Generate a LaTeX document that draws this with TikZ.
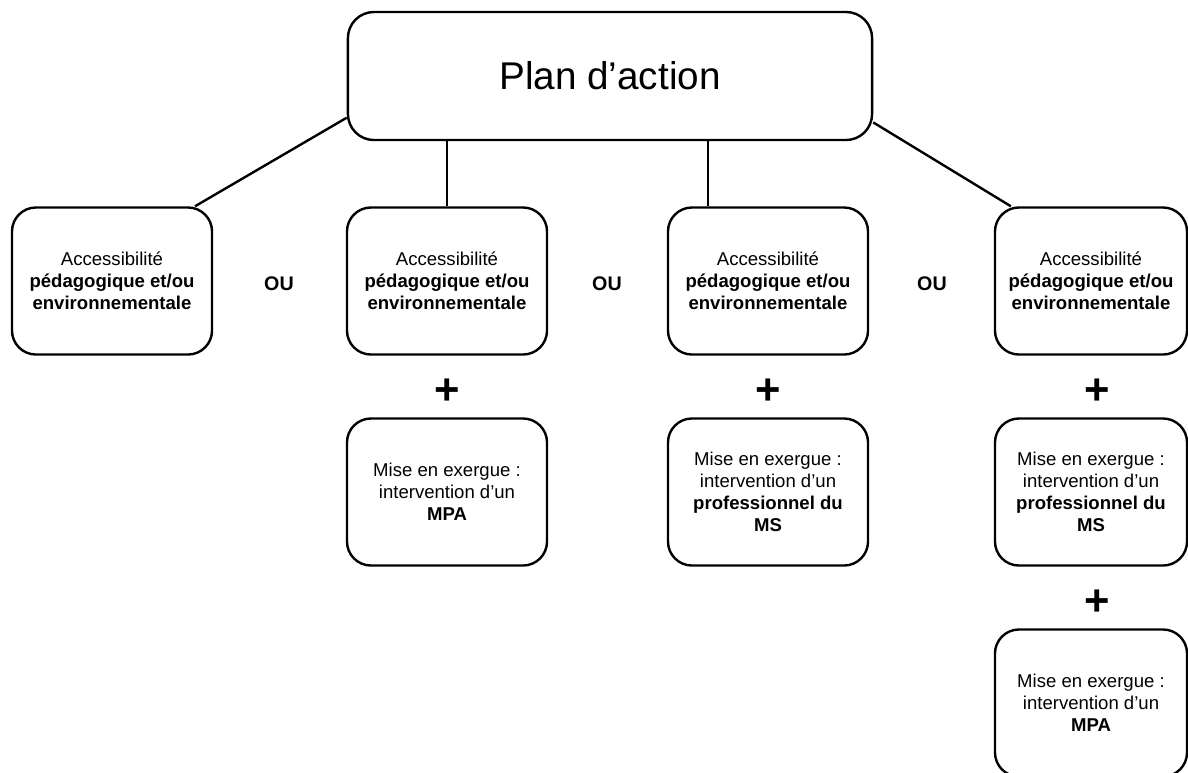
\documentclass[tikz,border=0pt]{standalone}
\usepackage{fontspec}
\setmainfont{Liberation Sans}
\tikzset{
  boite/.style={draw, line width=1.7pt, rounded corners=0.6cm, align=center,
    minimum width=5cm, minimum height=3.675cm, inner sep=2pt,
    font=\fontsize{13.2}{15.5}\selectfont},
  titre/.style={draw, line width=1.7pt, rounded corners=0.65cm, align=center,
    minimum width=13.1cm, minimum height=3.2cm,
    font=\fontsize{27.5}{32}\selectfont},
  ou/.style={font=\fontsize{14}{16}\selectfont\bfseries},
  plus/.style={font=\fontsize{31}{33}\selectfont\bfseries}
}
\begin{document}
\begin{tikzpicture}[x=0.025cm, y=-0.025cm, line width=1.7pt]
  \useasboundingbox (0,0) rectangle (1188,772);
  \clip (0,0) rectangle (1188,772);

  % Boîte principale
  \node[titre] (P) at (610,76) {Plan d’action};

  % Premier rang
  \node[boite] (A1) at (112,281) {Accessibilité\\\textbf{pédagogique et/ou}\\\textbf{environnementale}};
  \node[boite] (A2) at (447,281) {Accessibilité\\\textbf{pédagogique et/ou}\\\textbf{environnementale}};
  \node[boite] (A3) at (768,281) {Accessibilité\\\textbf{pédagogique et/ou}\\\textbf{environnementale}};
  \node[boite, minimum width=4.8cm] (A4) at (1091,281) {Accessibilité\\\textbf{pédagogique et/ou}\\\textbf{environnementale}};

  \node[ou] (ou1) at (279,284) {OU};
  \node[ou] (ou2) at (607,284) {OU};
  \node[ou] (ou3) at (932,284) {OU};

  % Liens
  \draw (P.189) -- (A1.42);
  \draw (A2.north) -- (A2.north |- P.south);
  \draw ([xshift=-1.5cm]A3.north) -- ([xshift=-1.5cm]A3.north |- P.south);
  \draw (P.350) -- (A4.137);

  % Mises en exergue
  \node[plus] (p2) at (447,392) {+};
  \node[plus] (p3) at (768,392) {+};
  \node[plus] (p4) at (1097,392) {+};
  \node[plus] (p5) at (1097,603) {+};

  \node[boite] (E2) at (447,492) {Mise en exergue :\\intervention d’un\\\textbf{MPA}};
  \node[boite] (E3) at (768,492) {Mise en exergue :\\intervention d’un\\\textbf{professionnel du}\\\textbf{MS}};
  \node[boite, minimum width=4.8cm] (E4) at (1091,492) {Mise en exergue :\\intervention d’un\\\textbf{professionnel du}\\\textbf{MS}};
  \node[boite, minimum width=4.8cm] (E5) at (1091,703) {Mise en exergue :\\intervention d’un\\\textbf{MPA}};
\end{tikzpicture}
\end{document}
